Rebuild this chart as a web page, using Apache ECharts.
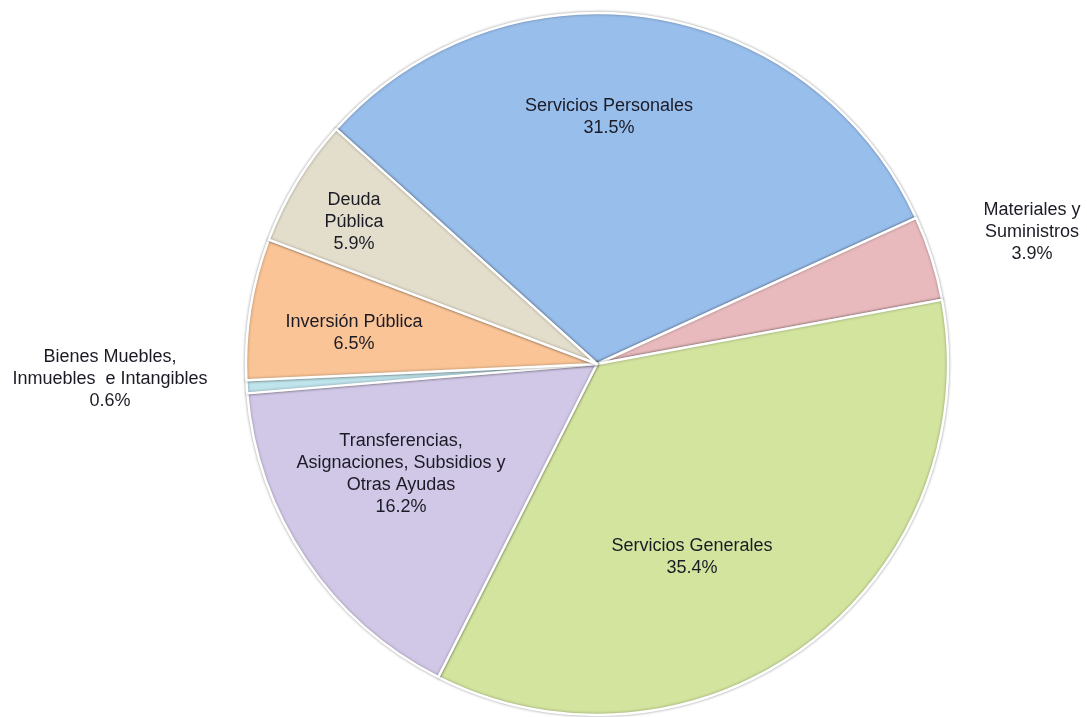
<!DOCTYPE html>
<html>
<head>
<meta charset="utf-8">
<script src="https://cdn.jsdelivr.net/npm/echarts@6/dist/echarts.min.js"></script>
<style>
  html, body { margin: 0; padding: 0; background: #ffffff; }
  #chart { width: 1087px; height: 717px; }
</style>
</head>
<body>
<div id="chart"></div>
<script>
// Data (clockwise order starting at upper left)
const categories = [
  'Servicios Personales',
  'Materiales y\nSuministros',
  'Servicios Generales',
  'Transferencias,\nAsignaciones, Subsidios y\nOtras Ayudas',
  'Bienes Muebles,\nInmuebles  e Intangibles',
  'Inversión Pública',
  'Deuda\nPública'
];
const values = [31.5, 3.9, 35.4, 16.2, 0.6, 6.5, 5.9];

// Styling (kept separate from data)
const colors = ['#98BEEC', '#E9BABD', '#D2E49E', '#D1C8E7', '#BFE4EC', '#FAC496', '#E3DECB'];
const CX = 597, CY = 364, R = 351;
// label anchor offsets from pie centre (px)
const labelOffsets = [
  [12, -247], [435, -132], [95, 193], [-196, 110], [-487, 15], [-243, -31], [-243, -142]
];

const chart = echarts.init(document.getElementById('chart'), null, { renderer: 'canvas' });
chart.setOption({
  backgroundColor: '#ffffff',
  animation: false,
  series: [{
    type: 'pie',
    center: [CX, CY],
    radius: [0, R],
    startAngle: 138,
    clockwise: true,
    avoidLabelOverlap: false,
    itemStyle: {
      borderColor: '#ffffff',
      borderWidth: 2.5,
      shadowBlur: 3,
      shadowColor: 'rgba(0,0,0,0.35)'
    },
    label: {
      show: true,
      position: 'inside',
      color: '#1b1b26',
      fontFamily: '"Liberation Sans", Arial, sans-serif',
      fontSize: 18,
      lineHeight: 22,
      align: 'center',
      formatter: p => p.name + '\n' + p.value.toFixed(1) + '%'
    },
    labelLine: { show: false },
    labelLayout: p => ({
      x: CX + labelOffsets[p.dataIndex][0],
      y: CY + labelOffsets[p.dataIndex][1],
      align: 'center',
      verticalAlign: 'middle'
    }),
    emphasis: { disabled: true },
    data: categories.map((c, i) => ({
      name: c,
      value: values[i],
      itemStyle: { color: colors[i] }
    }))
  }]
});
</script>
</body>
</html>
